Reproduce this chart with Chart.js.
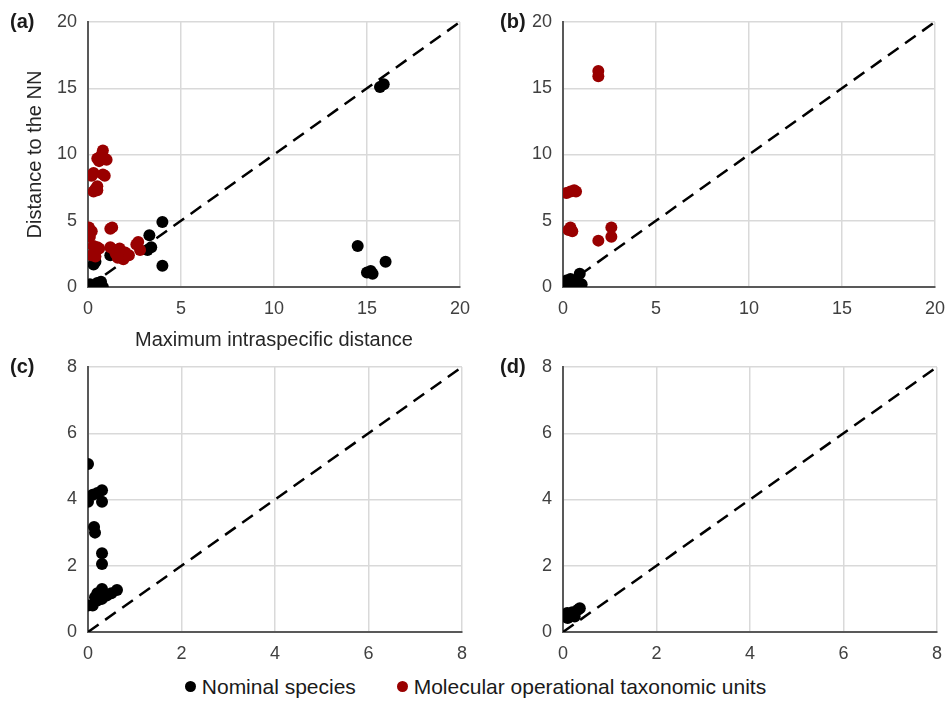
<!DOCTYPE html>
<html>
<head>
<meta charset="utf-8">
<script src="https://cdn.jsdelivr.net/npm/chart.js@4"></script>
<style>
body { margin: 0; background: #fff; width: 951px; height: 701px; position: relative; overflow: hidden;
       font-family: "Liberation Sans", Arial, sans-serif; }
.box { position: absolute; }
.tag { position: absolute; font-weight: bold; font-size: 20px; color: #1a1a1a; }
#legend { position: absolute; left: 0; width: 951px; top: 675px; text-align: center; font-size: 21px; color: #1a1a1a; }
.dot { display: inline-block; width: 11px; height: 11px; border-radius: 50%; margin-right: 6px; vertical-align: 2px; }
</style>
</head>
<body>

<div class="box" style="left:0;top:0;width:481px;height:362px"><canvas id="chartA"></canvas></div>
<div class="box" style="left:475px;top:0;width:481px;height:362px"><canvas id="chartB"></canvas></div>
<div class="box" style="left:0;top:345px;width:478px;height:320px"><canvas id="chartC"></canvas></div>
<div class="box" style="left:475px;top:345px;width:478px;height:320px"><canvas id="chartD"></canvas></div>

<div class="tag" style="left:10px;top:10px">(a)</div>
<div class="tag" style="left:500px;top:10px">(b)</div>
<div class="tag" style="left:10px;top:355px">(c)</div>
<div class="tag" style="left:500px;top:355px">(d)</div>

<div id="legend">
  <span class="dot" style="background:#000"></span>Nominal species
  &nbsp;&nbsp;&nbsp;&nbsp;&nbsp;&nbsp;<span class="dot" style="background:#990000"></span>Molecular operational taxonomic units
</div>

<script>
// ===========================
// DATA (x = max intraspecific, y = distance to NN)
// ===========================
const nominalA = [
    [0, 0.1], [0.1, 0.2], [0.3, 0.1], [0.5, 0.3], [0.7, 0.4], [0.8, 0.0], [0.6, 0.0],
    [0.3, 1.7], [0.4, 1.9], [1.2, 2.4], [3.2, 2.8], [3.4, 3.0], [3.3, 3.9], [4.0, 4.9],
    [4.0, 1.6], [14.5, 3.1], [15.0, 1.1], [15.2, 1.2], [15.3, 1.0], [16.0, 1.9],
    [15.7, 15.1], [15.9, 15.3]
];
const motuA = [
    [0.2, 8.4], [0.3, 8.6], [0.5, 9.7], [0.7, 9.9], [0.8, 10.3], [0.9, 9.7], [1.0, 9.6],
    [0.6, 9.5], [0.8, 8.5], [0.9, 8.4], [0.4, 7.4], [0.5, 7.3], [0.3, 7.2], [0.5, 7.6],
    [0.05, 4.5], [0.2, 4.2], [0.1, 3.8], [0.3, 3.1], [0.5, 3.0], [0.4, 2.7], [0.2, 2.4],
    [0.4, 2.3], [0.6, 2.9], [1.2, 4.4], [1.3, 4.5], [1.2, 3.0], [1.4, 2.8], [1.5, 2.5],
    [1.7, 2.9], [1.8, 2.3], [2.0, 2.6], [1.9, 2.1], [2.2, 2.4], [2.6, 3.2], [2.7, 3.4],
    [2.8, 2.8], [1.6, 2.2]
];
const nominalB = [
    [0.1, 0.3], [0.2, 0.5], [0.4, 0.6], [0.5, 0.2], [0.3, 0.0], [0.9, 1.0], [1.0, 0.2], [0.6, 0.4]
];
const motuB = [
    [1.9, 16.3], [1.9, 15.9], [0.2, 7.1], [0.4, 7.2], [0.6, 7.3], [0.7, 7.2],
    [0.3, 4.3], [0.4, 4.5], [0.5, 4.2], [1.9, 3.5], [2.6, 4.5], [2.6, 3.8]
];
const nominalC = [
    [0, 5.07], [0, 3.93], [0.1, 4.14], [0.2, 4.2], [0.3, 4.28], [0.3, 3.93],
    [0.13, 3.17], [0.15, 3.0], [0.3, 2.38], [0.3, 2.05],
    [0, 0.8], [0.1, 0.8], [0.15, 1.05], [0.2, 1.17], [0.3, 1.3], [0.4, 1.1],
    [0.5, 1.17], [0.62, 1.27], [0.3, 1.0], [0.2, 0.95]
];
const nominalD = [
    [0.09, 0.57], [0.2, 0.6], [0.32, 0.67], [0.1, 0.42], [0.25, 0.47], [0.36, 0.72]
];
const diagBig = [[0, 0], [20, 20]];
const diagSmall = [[0, 0], [8, 8]];

const BLACK = "#000000";
const RED = "#990000";

const toXY = arr => arr.map(p => ({ x: p[0], y: p[1] }));

// ===========================
// ONE PANEL
// ===========================
function drawPanel(id, nominal, motu, diag, max, step, showTitles, xHeight, padRight) {
    const ctx = document.getElementById(id).getContext("2d");
    const datasets = [
        {
            label: "Nominal species",
            data: toXY(nominal),
            backgroundColor: BLACK,
            borderWidth: 0,
            pointRadius: 6
        }
    ];
    if (motu.length) {
        datasets.unshift({
            label: "Molecular operational taxonomic units",
            data: toXY(motu),
            backgroundColor: RED,
            borderWidth: 0,
            pointRadius: 6
        });
    }
    datasets.push({
        type: "line",
        data: toXY(diag),
        borderColor: BLACK,
        borderWidth: 2.5,
        borderDash: [13, 8],
        pointRadius: 0,
        fill: false
    });

    const tickFont = { family: "Liberation Sans", size: 18 };
    const titleFont = { family: "Liberation Sans", size: 20 };

    return new Chart(ctx, {
        type: "scatter",
        data: { datasets: datasets },
        options: {
            responsive: true,
            maintainAspectRatio: false,
            animation: false,
            layout: { padding: { left: 0, top: 22, right: padRight, bottom: 0 } },
            plugins: { legend: { display: false }, tooltip: { enabled: false } },
            scales: {
                x: {
                    type: "linear",
                    min: 0, max: max,
                    ticks: { stepSize: step, color: "#404040", font: tickFont, padding: 11 },
                    grid: { color: "#d9d9d9", lineWidth: 1.5, drawTicks: false },
                    border: { color: "#595959", width: 2 },
                    title: {
                        display: showTitles,
                        text: "Maximum intraspecific distance",
                        color: "#262626",
                        font: titleFont,
                        padding: { top: 1, bottom: 10 }
                    },
                    afterFit: s => { s.height = xHeight; }
                },
                y: {
                    type: "linear",
                    min: 0, max: max,
                    ticks: { stepSize: step, color: "#404040", font: tickFont, padding: 11 },
                    grid: { color: "#d9d9d9", lineWidth: 1.5, drawTicks: false },
                    border: { color: "#595959", width: 2 },
                    title: {
                        display: showTitles,
                        text: "Distance to the NN",
                        color: "#262626",
                        font: titleFont,
                        padding: { top: 23, bottom: 0 }
                    },
                    afterFit: s => { s.width = 88; }
                }
            }
        }
    });
}

drawPanel("chartA", nominalA, motuA, diagBig, 20, 5, true, 75, 13);
drawPanel("chartB", nominalB, motuB, diagBig, 20, 5, false, 75, 13);
drawPanel("chartC", nominalC, [], diagSmall, 8, 2, false, 33, 13);
drawPanel("chartD", nominalD, [], diagSmall, 8, 2, false, 33, 13);
</script>
</body>
</html>
